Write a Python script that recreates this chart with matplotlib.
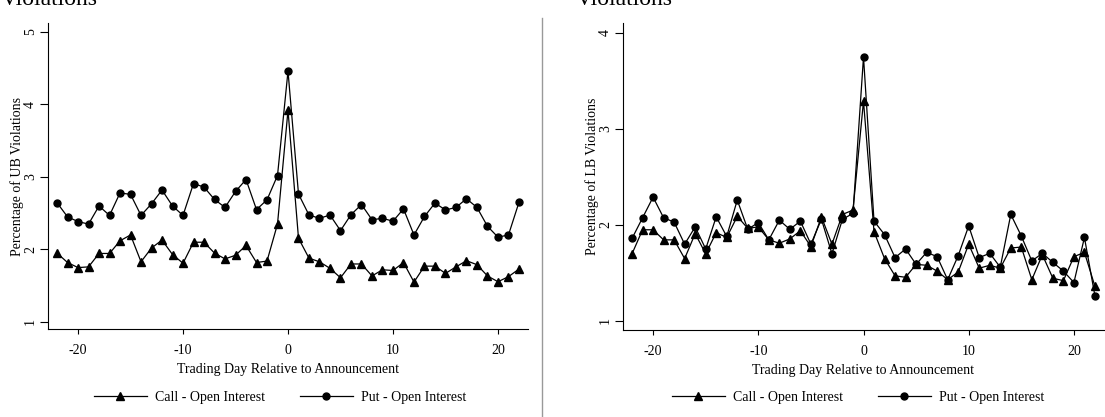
import numpy as np
import matplotlib.pyplot as plt
from matplotlib.lines import Line2D

plt.rcParams['font.family'] = ['Liberation Serif', 'DejaVu Serif']
plt.rcParams['font.size'] = 10

# trading days relative to the announcement
days = np.arange(-22, 23)

# upper bound violations (%)
ub_call = [1.95, 1.82, 1.75, 1.76, 1.945, 1.945, 2.12, 2.20, 1.83, 2.02, 2.13,
           1.93, 1.81, 2.10, 2.10, 1.95, 1.87, 1.92, 2.055, 1.82, 1.84, 2.35,
           3.92,
           2.155, 1.88, 1.83, 1.74, 1.61, 1.80, 1.80, 1.635, 1.72, 1.71, 1.82,
           1.55, 1.77, 1.77, 1.67, 1.76, 1.845, 1.79, 1.635, 1.555, 1.625, 1.73]
ub_put = [2.645, 2.45, 2.385, 2.35, 2.60, 2.47, 2.78, 2.76, 2.47, 2.63, 2.82,
          2.60, 2.47, 2.91, 2.86, 2.69, 2.58, 2.80, 2.965, 2.55, 2.685, 3.02,
          4.46,
          2.765, 2.475, 2.43, 2.475, 2.26, 2.48, 2.62, 2.41, 2.43, 2.39, 2.56,
          2.20, 2.455, 2.64, 2.545, 2.58, 2.70, 2.58, 2.32, 2.17, 2.20, 2.65]

# lower bound violations (%)
lb_call = [1.70, 1.95, 1.95, 1.845, 1.845, 1.65, 1.91, 1.70, 1.92, 1.87, 2.09,
           1.965, 1.98, 1.845, 1.81, 1.855, 1.94, 1.775, 2.085, 1.80, 2.11, 2.155,
           3.29,
           1.93, 1.65, 1.47, 1.455, 1.59, 1.58, 1.52, 1.43, 1.51, 1.80, 1.55,
           1.58, 1.55, 1.76, 1.77, 1.43, 1.69, 1.445, 1.42, 1.67, 1.715, 1.36]
lb_put = [1.86, 2.075, 2.29, 2.075, 2.03, 1.80, 1.98, 1.75, 2.085, 1.88, 2.26,
          1.955, 2.025, 1.845, 2.05, 1.955, 2.04, 1.80, 2.06, 1.70, 2.06, 2.12,
          3.75,
          2.04, 1.90, 1.66, 1.75, 1.59, 1.715, 1.67, 1.43, 1.68, 1.99, 1.66,
          1.705, 1.56, 2.11, 1.885, 1.625, 1.705, 1.61, 1.52, 1.40, 1.87, 1.26]

labels = ['Call - Open Interest', 'Put - Open Interest']

fig = plt.figure(figsize=(11.05, 4.17), dpi=100)
W, H = 1105, 417


def panel(rect, call, put, ylabel, ylim, yticks, leg_x):
    ax = fig.add_axes(rect)
    ax.plot(days, call, color='black', lw=0.9, marker='^', ms=6, label=labels[0])
    ax.plot(days, put, color='black', lw=0.9, marker='o', ms=5, label=labels[1])
    ax.set_xlim(-22.86, 22.86)
    ax.set_ylim(*ylim)
    ax.set_xticks([-20, -10, 0, 10, 20])
    ax.set_yticks(yticks)
    ax.set_xticklabels(['-20', '-10', '0', '10', '20'])
    for lab in ax.get_yticklabels():
        lab.set_rotation(90)
        lab.set_va('center')
    ax.spines['top'].set_visible(False)
    ax.spines['right'].set_visible(False)
    ax.spines['left'].set_linewidth(0.8)
    ax.spines['bottom'].set_linewidth(0.8)
    ax.tick_params(axis='y', length=6, width=0.8, pad=2)
    ax.tick_params(axis='x', length=3.5, width=0.8, pad=7.5)
    ax.set_xlabel('Trading Day Relative to Announcement', labelpad=4)
    ax.set_ylabel(ylabel, labelpad=0)
    ax.legend(loc='center', bbox_to_anchor=(leg_x / W, 1 - 397 / H),
              bbox_transform=fig.transFigure, ncol=2, frameon=False,
              handlelength=3.8, handletextpad=0.6, columnspacing=2.5)
    return ax


panel([48 / W, 88 / H, 480 / W, 306 / H], ub_call, ub_put,
      'Percentage of UB Violations', (0.903, 5.124), [1, 2, 3, 4, 5], 280)
panel([623 / W, 87 / H, 481 / W, 307 / H], lb_call, lb_put,
      'Percentage of LB Violations', (0.906, 4.104), [1, 2, 3, 4], 858)

# cut-off titles from the page above
fig.text(98 / W, 1 - 5 / H, 'Violations', ha='right', va='baseline', fontsize=17)
fig.text(576 / W, 1 - 5 / H, 'Violations', ha='left', va='baseline', fontsize=17)

# separator between the two panels
fig.add_artist(Line2D([542 / W, 542 / W], [0, 1 - 18 / H], color='#999999', lw=1))

fig.savefig('out.png', dpi=100)
